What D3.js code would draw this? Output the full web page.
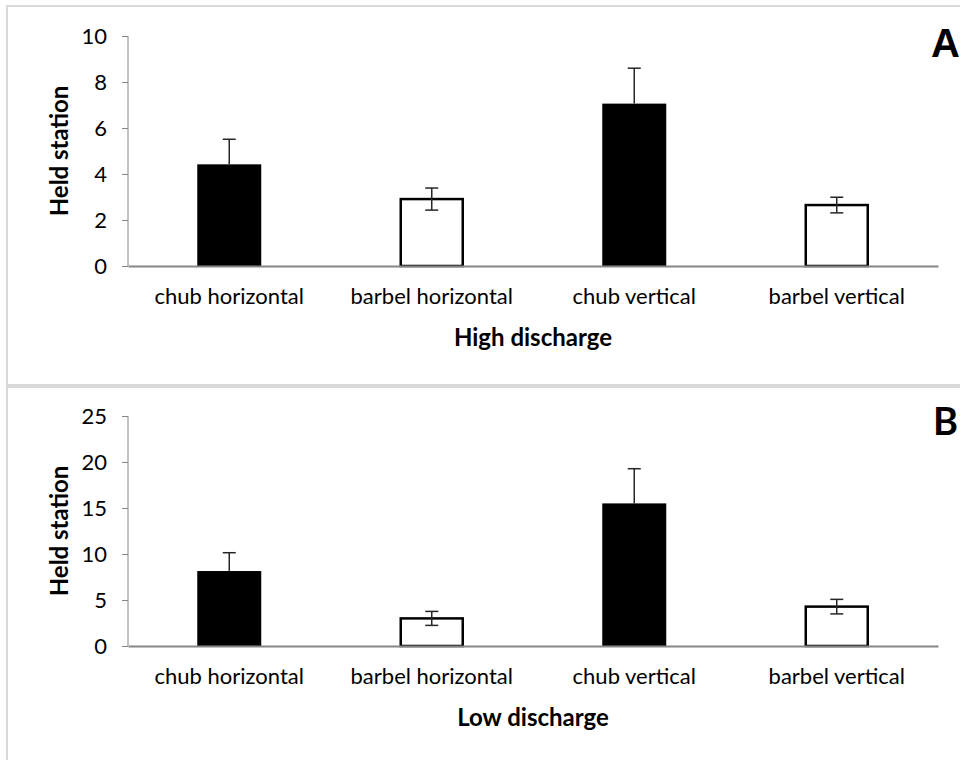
<!DOCTYPE html>
<html>
<head>
<meta charset="utf-8">
<script src="https://cdn.jsdelivr.net/npm/d3@7"></script>
<style>
  body { margin: 0; background: #fff; }
  svg { display: block; }
  .tick text { font-family: Lato, "Open Sans", sans-serif; }
</style>
</head>
<body>
<svg id="chart" width="960" height="760"></svg>
<script>
// category order on the x axis
var categories = ["chub horizontal", "barbel horizontal", "chub vertical", "barbel vertical"];

// panel A: high discharge (mean, error)
var highMeans = [4.42, 2.91, 7.06, 2.65];
var highErr = [1.09, 0.48, 1.54, 0.34];
var highTicks = [0, 2, 4, 6, 8, 10];

// panel B: low discharge
var lowMeans = [8.15, 3.0, 15.5, 4.28];
var lowErr = [1.99, 0.76, 3.77, 0.79];
var lowTicks = [0, 5, 10, 15, 20, 25];

var svg = d3.select("#chart");
var font = "Lato, 'Open Sans', sans-serif";

// panel frames
svg.append("rect").attr("x", 7).attr("y", 6).attr("width", 970).attr("height", 379)
  .attr("fill", "#fff").attr("stroke", "#d9d9d9").attr("stroke-width", 2);
svg.append("rect").attr("x", 7).attr("y", 387).attr("width", 970).attr("height", 400)
  .attr("fill", "#fff").attr("stroke", "#d9d9d9").attr("stroke-width", 2);

function drawPanel(cfg) {
  var x = d3.scaleBand().domain(categories).range([128, 938])
    .paddingInner(0.684).paddingOuter(0.342);
  var y = d3.scaleLinear().domain([0, cfg.ticks[cfg.ticks.length - 1]])
    .range([cfg.bottom, cfg.bottom - 230]);

  var rows = categories.map(function(c, i) {
    return { cat: c, mean: cfg.means[i], err: cfg.err[i], chub: c.indexOf("chub") == 0 };
  });

  var g = svg.append("g");

  // y axis
  var ya = g.append("g")
    .attr("transform", "translate(128,0)")
    .call(d3.axisLeft(y).tickValues(cfg.ticks).tickSize(6).tickPadding(15));
  ya.select(".domain").attr("stroke", "#868686").attr("d", "M0," + y.range()[1] + "V" + y.range()[0]);
  ya.selectAll(".tick line").attr("stroke", "#868686");
  ya.selectAll(".tick text").attr("font-size", 22).attr("fill", "#000");

  // bars
  g.selectAll(".bar")
    .data(rows)
    .enter()
    .append("rect")
    .attr("x", function(d) { return x(d.cat) + (d.chub ? 0 : 1); })
    .attr("width", function(d) { return x.bandwidth() - (d.chub ? 0 : 2); })
    .attr("y", function(d) { return y(d.mean); })
    .attr("height", function(d) { return y(0) - y(d.mean); })
    .attr("fill", function(d) { return d.chub ? "#000" : "#fff"; })
    .attr("stroke", "#000")
    .attr("stroke-width", function(d) { return d.chub ? 0 : 2.5; });

  // error bars (lower half hidden inside the black bars)
  var eb = g.selectAll(".err").data(rows).enter().append("g")
    .attr("stroke", "#262626").attr("stroke-width", 1.5);
  eb.append("line")
    .attr("x1", function(d) { return x(d.cat) + x.bandwidth() / 2; })
    .attr("x2", function(d) { return x(d.cat) + x.bandwidth() / 2; })
    .attr("y1", function(d) { return y(d.chub ? d.mean : d.mean - d.err); })
    .attr("y2", function(d) { return y(d.mean + d.err); });
  eb.append("line")
    .attr("x1", function(d) { return x(d.cat) + x.bandwidth() / 2 - 6.5; })
    .attr("x2", function(d) { return x(d.cat) + x.bandwidth() / 2 + 6.5; })
    .attr("y1", function(d) { return y(d.mean + d.err); })
    .attr("y2", function(d) { return y(d.mean + d.err); });
  eb.filter(function(d) { return !d.chub; }).append("line")
    .attr("x1", function(d) { return x(d.cat) + x.bandwidth() / 2 - 6.5; })
    .attr("x2", function(d) { return x(d.cat) + x.bandwidth() / 2 + 6.5; })
    .attr("y1", function(d) { return y(d.mean - d.err); })
    .attr("y2", function(d) { return y(d.mean - d.err); });

  // x axis
  var xa = g.append("g")
    .attr("transform", "translate(0," + y(0) + ")")
    .call(d3.axisBottom(x).tickSize(0).tickPadding(22));
  xa.select(".domain").attr("stroke", "#868686").attr("stroke-width", 2);
  xa.selectAll(".tick text").attr("font-size", 22).attr("fill", "#000");

  // axis titles
  g.append("text")
    .attr("transform", "translate(68," + (y.range()[0] + y.range()[1]) / 2 + ") rotate(-90)")
    .attr("text-anchor", "middle")
    .attr("font-family", font).attr("font-weight", "bold").attr("font-size", 24)
    .text("Held station");
  g.append("text")
    .attr("x", 533).attr("y", y(0) + 80)
    .attr("text-anchor", "middle")
    .attr("font-family", font).attr("font-weight", "bold").attr("font-size", 24)
    .text(cfg.title);

  // panel letter
  g.append("text")
    .attr("x", cfg.letterX).attr("y", cfg.letterY)
    .attr("font-family", cfg.letterFont).attr("font-weight", "bold").attr("font-size", cfg.letterSize)
    .text(cfg.letter);
}

drawPanel({ means: highMeans, err: highErr, ticks: highTicks, bottom: 266,
  title: "High discharge", letter: "A", letterX: 931, letterY: 57, letterSize: 40,
  letterFont: "'Liberation Sans', Arial, sans-serif" });
drawPanel({ means: lowMeans, err: lowErr, ticks: lowTicks, bottom: 646,
  title: "Low discharge", letter: "B", letterX: 933, letterY: 435, letterSize: 38,
  letterFont: font });
</script>
</body>
</html>
